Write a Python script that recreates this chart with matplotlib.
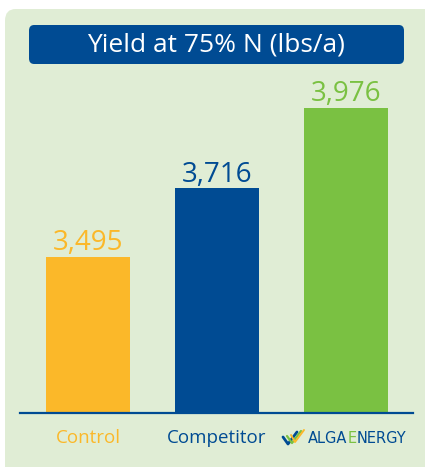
import matplotlib
matplotlib.use("Agg")
import matplotlib.pyplot as plt
from matplotlib.patches import FancyBboxPatch, Rectangle
from matplotlib.lines import Line2D

categories = ["Control", "Competitor", "ALGAENERGY"]
values = [3495, 3716, 3976]
value_labels = ["3,495", "3,716", "3,976"]
title = "Yield at 75% N (lbs/a)"

ORANGE = "#FBB829"
BLUE = "#004B93"
GREEN = "#7AC142"
BG = "#E0EDD5"
colors = [ORANGE, BLUE, GREEN]
label_colors = [ORANGE, BLUE, GREEN]

W, H = 425, 467
fig = plt.figure(figsize=(W / 100, H / 100), dpi=100)
fig.patch.set_facecolor("white")
FONT = ["Open Sans", "DejaVu Sans"]

def fx(px):
    return px / W

def fy(py):
    return 1 - py / H

# background panel (rounded top-left corner, runs off right and bottom edges)
panel = FancyBboxPatch((fx(5), fy(100)), fx(440), fy(9) - fy(100),
                       boxstyle="round,pad=0,rounding_size=0.025",
                       transform=fig.transFigure, facecolor=BG, edgecolor="none",
                       zorder=-5)
fig.patches.append(panel)
fig.patches.append(Rectangle((fx(5), fy(480)), fx(430), fy(50) - fy(480),
                             transform=fig.transFigure, facecolor=BG,
                             edgecolor="none", zorder=-5))

# title box
tbox = FancyBboxPatch((fx(29), fy(64)), fx(404) - fx(29), fy(25) - fy(64),
                      boxstyle="round,pad=0,rounding_size=0.012",
                      transform=fig.transFigure, facecolor=BLUE, edgecolor="none",
                      zorder=-4)
fig.patches.append(tbox)
fig.text(fx(216), fy(45), title, color="white", fontsize=19, ha="center", va="center",
         family=FONT)

# axes
ax_left, ax_right, ax_bottom, ax_top = 20, 413, 413, 80
ax = fig.add_axes([fx(ax_left), fy(ax_bottom), fx(ax_right - ax_left), fy(ax_top) - fy(ax_bottom)])
ax.set_facecolor("none")
ax.set_zorder(2)
x = list(range(len(categories)))
ax.bar(x, values, width=0.651, color=colors, zorder=2)
ymin = 2990
scale = (257 - 108) / (3976 - 3495)
ax.set_ylim(ymin, ymin + (ax_bottom - ax_top) / scale)
ax.set_xlim(-0.527, 2.519)
for s in ["top", "right", "left"]:
    ax.spines[s].set_visible(False)
ax.spines["bottom"].set_color(BLUE)
ax.spines["bottom"].set_linewidth(1.6)
ax.spines["bottom"].set_zorder(3)
ax.set_yticks([])
ax.set_xticks([])

for xi, v, lab, c in zip(x, values, value_labels, label_colors):
    ax.annotate(lab, (xi, v), xytext=(0, 4.5), textcoords="offset points",
                ha="center", va="baseline", color=c, fontsize=20, family=FONT)

# category labels
ax.annotate(categories[0], (x[0], ymin), xytext=(0, -18), textcoords="offset points",
            ha="center", va="center", color=ORANGE, fontsize=13.5, family=FONT,
            annotation_clip=False)
ax.annotate(categories[1], (x[1], ymin), xytext=(0, -18), textcoords="offset points",
            ha="center", va="center", color=BLUE, fontsize=13.5, family=FONT,
            annotation_clip=False)

# AlgaEnergy logo text
ty = fy(438.5)
LF = ["DejaVu Sans"]
fig.text(fx(308), ty, "ALGA", color=BLUE, fontsize=10.5, ha="left", va="center", family=LF)
fig.text(fx(347.5), ty, "E", color=GREEN, fontsize=10.5, ha="left", va="center", family=LF)
fig.text(fx(357), ty, "NERGY", color=BLUE, fontsize=10.5, ha="left", va="center", family=LF)

# swoosh logo
def add_line(xs, ys, color, lw):
    fig.add_artist(Line2D([fx(v) for v in xs], [fy(v) for v in ys], color=color,
                          lw=lw, transform=fig.transFigure, solid_capstyle="round"))

add_line([283, 288, 297], [437, 444, 432], BLUE, 2.0)
add_line([287, 292, 301], [436, 443, 431], GREEN, 1.6)
add_line([291, 295, 304], [435, 442, 430], ORANGE, 1.4)

fig.savefig("out.png", dpi=100, facecolor=fig.get_facecolor())
